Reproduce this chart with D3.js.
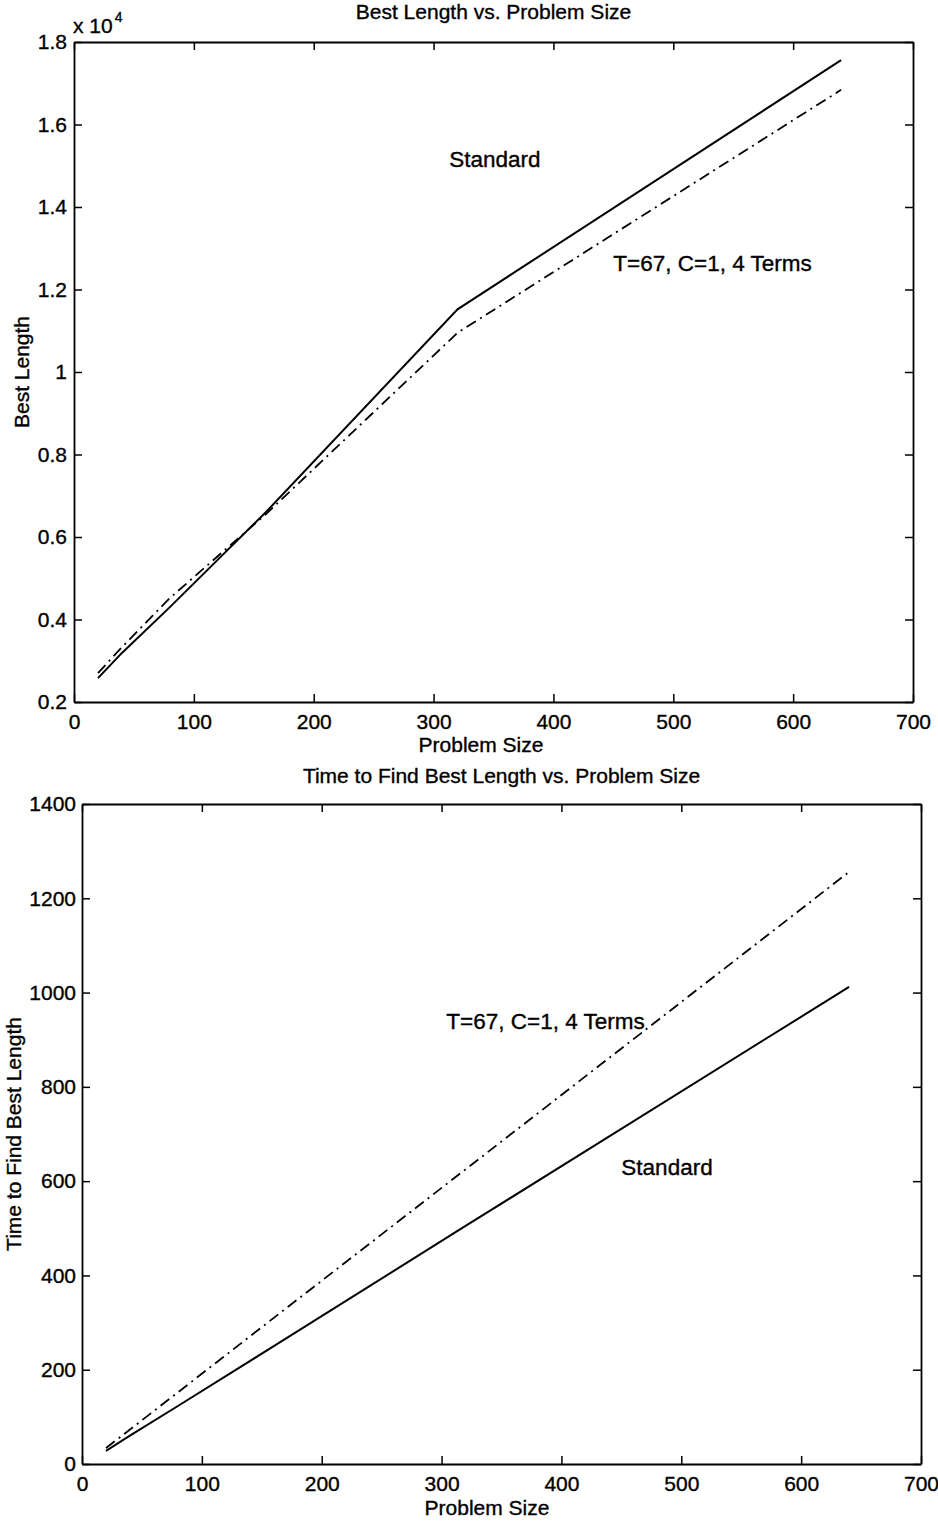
<!DOCTYPE html>
<html>
<head>
<meta charset="utf-8">
<script src="https://cdn.jsdelivr.net/npm/d3@7"></script>
<style>
  body { margin: 0; background: #fff; }
  svg text { font-family: "Liberation Sans", Arial, Helvetica, sans-serif; fill: #000; stroke: #000; stroke-width: 0.35; }
</style>
</head>
<body>
<div id="chart"></div>
<script>
// problem sizes used in both plots
const problemSizes = [20, 40, 80, 160, 320, 640];

// top: best tour length
const bestStandard = [2580, 3190, 4300, 6600, 11520, 17560];
const bestTerms = [2700, 3330, 4520, 6550, 10950, 16840];

// bottom: time to find best length
const timeStandard = [28, 60, 123, 250, 505, 1012];
const timeTerms = [34, 73, 152, 310, 625, 1256];

const xTicks = [0, 100, 200, 300, 400, 500, 600, 700];
const bestTicks = [2000, 4000, 6000, 8000, 10000, 12000, 14000, 16000, 18000];
const timeTicks = [0, 200, 400, 600, 800, 1000, 1200, 1400];

const width = 938;
const height = 1523;

const svg = d3.select("#chart")
    .append("svg")
    .attr("width", width)
    .attr("height", height)
    .attr("viewBox", [0, 0, width, height]);

const fontSize = 21;
const noteSize = 22.5;

function drawPanel(opts) {
    const { left, right, top, bottom } = opts.box;
    const x = d3.scaleLinear().domain([0, 700]).range([left, right]);
    const y = d3.scaleLinear().domain(opts.yDomain).range([bottom, top]);

    const g = svg.append("g");

    // box with inward ticks on all sides
    const axes = [
        d3.axisBottom(x).tickValues(xTicks).tickSizeInner(-8).tickSizeOuter(0).tickPadding(12),
        d3.axisLeft(y).tickValues(opts.yTicks).tickSizeInner(-8).tickSizeOuter(0)
            .tickPadding(opts.yPad).tickFormat(opts.yFormat),
        d3.axisTop(x).tickValues(xTicks).tickSizeInner(-8).tickSizeOuter(0).tickFormat(""),
        d3.axisRight(y).tickValues(opts.yTicks).tickSizeInner(-8).tickSizeOuter(0).tickFormat("")
    ];
    const shifts = [[0, bottom], [left, 0], [0, top], [right, 0]];

    axes.forEach((ax, i) => {
        const a = g.append("g")
            .attr("transform", `translate(${shifts[i][0]},${shifts[i][1]})`)
            .call(ax);
        a.select(".domain").attr("stroke", "#000").attr("stroke-width", 1.8);
        a.selectAll(".tick line").attr("stroke", "#000").attr("stroke-width", 1.5);
        a.selectAll(".tick text")
            .attr("font-size", fontSize)
            .attr("font-family", "Liberation Sans, Arial, sans-serif")
            .attr("fill", "#000");
    });

    const line = d3.line()
        .x((d, i) => x(problemSizes[i]))
        .y(d => y(d));

    g.append("path")
        .datum(opts.standard)
        .attr("d", line)
        .attr("fill", "none")
        .attr("stroke", "#000")
        .attr("stroke-width", 2);

    g.append("path")
        .datum(opts.terms)
        .attr("d", line)
        .attr("fill", "none")
        .attr("stroke", "#000")
        .attr("stroke-width", 1.8)
        .attr("stroke-dasharray", "11,5,2,5");

    // title and labels
    g.append("text")
        .attr("x", (left + right) / 2)
        .attr("y", opts.titleY)
        .attr("text-anchor", "middle")
        .attr("font-size", fontSize)
        .text(opts.title);

    g.append("text")
        .attr("x", opts.xLabelX)
        .attr("y", opts.xLabelY)
        .attr("text-anchor", "middle")
        .attr("font-size", fontSize)
        .text("Problem Size");

    g.append("text")
        .attr("transform", `translate(${opts.yLabelX},${(top + bottom) / 2}) rotate(-90)`)
        .attr("text-anchor", "middle")
        .attr("font-size", fontSize)
        .text(opts.yLabel);

    // in-plot annotations (data coordinates)
    opts.notes.forEach(n => {
        g.append("text")
            .attr("x", x(n.x))
            .attr("y", y(n.y))
            .attr("dy", "0.35em")
            .attr("font-size", noteSize)
            .text(n.text);
    });

    return { g, x, y };
}

const topPanel = drawPanel({
    box: { left: 74, right: 913, top: 42, bottom: 702 },
    yDomain: [2000, 18000],
    yTicks: bestTicks,
    yFormat: d => String(+(d / 1e4).toFixed(1)),
    yPad: 7,
    standard: bestStandard,
    terms: bestTerms,
    title: "Best Length vs. Problem Size",
    titleY: 19,
    xLabelX: 481,
    xLabelY: 752,
    yLabel: "Best Length",
    yLabelX: 29,
    notes: [
        { x: 313, y: 15150, text: "Standard" },
        { x: 450, y: 12650, text: "T=67, C=1, 4 Terms" }
    ]
});

// exponent label for the top y axis
const expo = topPanel.g.append("text")
    .attr("x", 73)
    .attr("y", 33)
    .attr("font-size", fontSize);
expo.append("tspan").text("x 10");
expo.append("tspan")
    .attr("font-size", 14)
    .attr("dy", -11)
    .attr("dx", 2)
    .text("4");

drawPanel({
    box: { left: 82, right: 921, top: 804, bottom: 1464 },
    yDomain: [0, 1400],
    yTicks: timeTicks,
    yFormat: d3.format("d"),
    yPad: 6,
    standard: timeStandard,
    terms: timeTerms,
    title: "Time to Find Best Length vs. Problem Size",
    titleY: 783,
    xLabelX: 487,
    xLabelY: 1515,
    yLabel: "Time to Find Best Length",
    yLabelX: 21,
    notes: [
        { x: 304, y: 940, text: "T=67, C=1, 4 Terms" },
        { x: 450, y: 630, text: "Standard" }
    ]
});
</script>
</body>
</html>
